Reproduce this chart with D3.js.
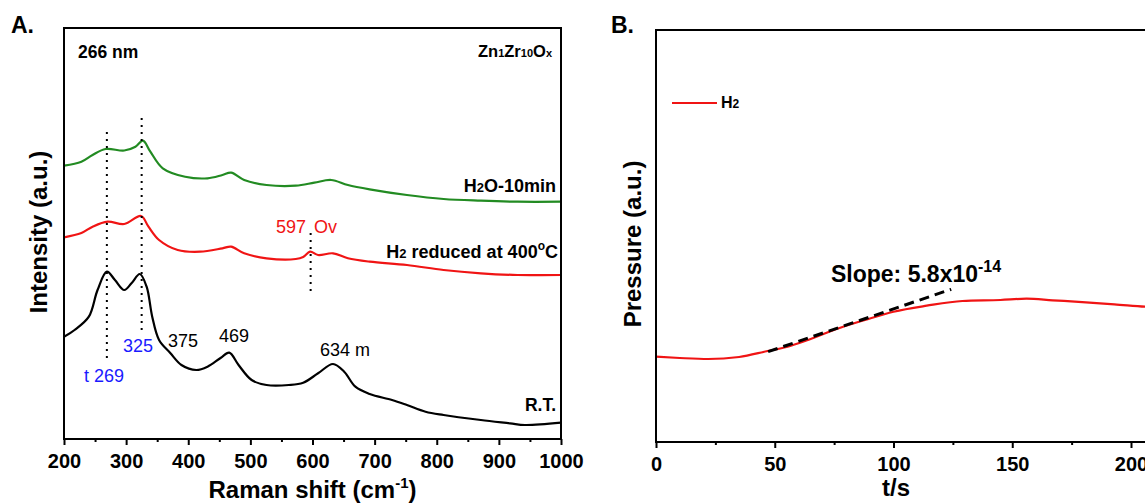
<!DOCTYPE html>
<html>
<head>
<meta charset="utf-8">
<script src="https://cdn.jsdelivr.net/npm/d3@7"></script>
<style>
  body { margin: 0; background: #fff; }
  svg { display: block; font-family: "Liberation Sans", Arial, sans-serif; }
</style>
</head>
<body>
<div id="base"></div>
<script>
// panel A: Raman spectra (intensity in a.u., offset stacked as in the figure)
var ramanShiftRT = [200, 217, 240, 254, 269, 282, 297, 309, 322, 333, 342, 353, 371, 389, 413, 431, 452, 466, 481, 502, 526, 562, 585, 609, 633, 651, 669, 692, 728, 752, 782, 811, 871, 918, 942, 1000];
var intensityRT = [102.3, 109, 122.3, 149, 167.3, 159, 149, 156, 165, 152.3, 122.3, 99, 86, 74, 69, 72.3, 81, 86.3, 74, 59, 54, 54, 56.3, 65.7, 75, 67.3, 52.3, 45, 39, 34, 27.3, 24, 19, 15.7, 14, 16.3];

var ramanShiftH2 = [200, 228, 246, 270, 297, 324, 336, 353, 383, 419, 455, 469, 490, 526, 573, 585, 596, 609, 633, 657, 692, 752, 811, 871, 930, 1000];
var intensityH2 = [201.7, 206, 212.3, 217.3, 215, 223, 212.3, 199, 189, 187.3, 190.7, 192.3, 185.7, 180.7, 180, 182, 187.3, 184, 185.7, 180.7, 177.3, 174, 169, 165.7, 164, 164];

var ramanShiftH2O = [200, 228, 246, 267, 297, 315, 327, 339, 359, 395, 431, 455, 469, 490, 526, 573, 603, 630, 657, 692, 752, 811, 871, 930, 1000];
var intensityH2O = [273.3, 277.3, 284, 290, 288.5, 292.3, 298.3, 287.3, 270.7, 262.3, 260.7, 264, 266.3, 259, 254, 253.3, 256.3, 259, 254, 249.7, 244, 240, 238.3, 237.3, 237.3];

var ramanTicks = [200, 300, 400, 500, 600, 700, 800, 900, 1000];
var ramanMinorTicks = [250, 350, 450, 550, 650, 750, 850, 950];

// dotted marker lines: position and vertical extent (a.u.)
var markerShift = [269, 325, 597];
var markerTop = [307, 321, 206];
var markerBottom = [81, 107, 147];

// panel B: pressure vs time
var timeS = [0, 10, 22, 35, 47, 55, 64, 76, 88, 100, 114, 129, 145, 156, 167, 181, 193, 206, 220];
var pressure = [85.3, 84, 83, 85, 91, 95, 102, 113, 122, 130.3, 136.3, 141, 142, 143.3, 141.7, 139.7, 137.7, 135.3, 133.5];
var fitTime = [47.2, 124.3];
var fitPressure = [90.3, 152.7];
var timeTicks = [0, 50, 100, 150, 200];
var timeMinorTicks = [25, 75, 125, 175];

var font = "'Liberation Sans', Arial, sans-serif";
var greenColor = "#228b22";
var redColor = "#f01414";
var blueColor = "#1a1aff";

const width = 1145, height = 504;
const svg = d3.select("#base").append("svg")
    .attr("width", width)
    .attr("height", height);

// ---------- panel A ----------
const ax = {left: 64, right: 561, top: 28, bottom: 439};
const xA = d3.scaleLinear().domain([200, 1000]).range([ax.left, ax.right]);
const yA = d3.scaleLinear().domain([0, 411]).range([ax.bottom, ax.top]);

const lineA = d3.line()
    .x(d => xA(d[0]))
    .y(d => yA(d[1]))
    .curve(d3.curveCatmullRom.alpha(0.5));

svg.append("clipPath").attr("id", "clipA")
  .append("rect").attr("x", ax.left).attr("y", ax.top)
    .attr("width", ax.right - ax.left).attr("height", ax.bottom - ax.top);

const gA = svg.append("g").attr("clip-path", "url(#clipA)");
[[ramanShiftRT, intensityRT, "#000"], [ramanShiftH2, intensityH2, redColor], [ramanShiftH2O, intensityH2O, greenColor]]
  .forEach(s => {
    gA.append("path")
      .datum(d3.zip(s[0], s[1]))
      .attr("fill", "none")
      .attr("stroke", s[2])
      .attr("stroke-width", 2.2)
      .attr("d", lineA);
  });

// dotted guide lines
svg.append("g").selectAll("line")
  .data(markerShift)
  .join("line")
    .attr("x1", d => xA(d)).attr("x2", d => xA(d))
    .attr("y1", (d, i) => yA(markerTop[i]))
    .attr("y2", (d, i) => yA(markerBottom[i]))
    .attr("stroke", "#000")
    .attr("stroke-width", 2)
    .attr("stroke-dasharray", "2,5");

// frame + axis
svg.append("rect")
    .attr("x", ax.left).attr("y", ax.top)
    .attr("width", ax.right - ax.left).attr("height", ax.bottom - ax.top)
    .attr("fill", "none").attr("stroke", "#000").attr("stroke-width", 2);

function styleAxis(g) {
  g.select(".domain").remove();
  g.selectAll(".tick line").attr("stroke-width", 2);
  g.selectAll(".tick text")
    .attr("font-family", font)
    .attr("font-weight", "bold")
    .attr("font-size", 20)
    .attr("fill", "#000")
    .attr("dy", "1.0em");
}

svg.append("g")
    .attr("transform", `translate(0,${ax.bottom})`)
    .call(d3.axisBottom(xA).tickValues(ramanTicks).tickFormat(d3.format("d")).tickSize(6).tickPadding(3).tickSizeOuter(0))
    .call(styleAxis);
svg.append("g")
    .attr("transform", `translate(0,${ax.bottom})`)
    .call(d3.axisBottom(xA).tickValues(ramanMinorTicks).tickSize(3).tickFormat("").tickSizeOuter(0))
    .call(styleAxis);

function addText(x, y, str, opts) {
  opts = opts || {};
  return svg.append("text")
    .attr("x", x).attr("y", y)
    .attr("font-family", font)
    .attr("font-size", opts.size || 16)
    .attr("font-weight", opts.weight || "bold")
    .attr("fill", opts.color || "#000")
    .attr("text-anchor", opts.anchor || "start")
    .text(str);
}

addText(11, 33, "A.", {size: 23});
addText(78, 58, "266 nm", {size: 17.5});

// Zn1Zr10Ox with subscripts
var zn = addText(552, 57, "", {size: 16.5, anchor: "end"});
[["Zn", 0], ["1", 1], ["Zr", 0], ["10", 1], ["O", 0], ["x", 1]].forEach(p => {
  zn.append("tspan").attr("font-size", p[1] ? 11 : 16.5).text(p[0]);
});

var h2o = addText(556, 192, "", {size: 18, anchor: "end"});
h2o.append("tspan").text("H");
h2o.append("tspan").attr("font-size", 13).text("2");
h2o.append("tspan").text("O-10min");

var h2r = addText(558, 258, "", {size: 18, anchor: "end"});
h2r.append("tspan").text("H");
h2r.append("tspan").attr("font-size", 13).text("2");
h2r.append("tspan").text(" reduced at 400");
h2r.append("tspan").attr("font-size", 12).attr("dy", -8).text("o");
h2r.append("tspan").attr("dy", 8).text("C");

addText(276, 233, "597", {size: 18, weight: "normal", color: redColor});
addText(314, 233, "Ov", {size: 18, weight: "normal", color: redColor});
addText(84, 382, "t 269", {size: 18, weight: "normal", color: blueColor});
addText(123, 352, "325", {size: 18, weight: "normal", color: blueColor});
addText(168, 347, "375", {size: 18, weight: "normal"});
addText(219, 342, "469", {size: 18, weight: "normal"});
addText(320, 356, "634 m", {size: 18, weight: "normal"});
addText(556, 411, "R.T.", {size: 17.5, anchor: "end"});

var xtA = addText((ax.left + ax.right) / 2, 498, "", {size: 24, anchor: "middle"});
xtA.append("tspan").text("Raman shift (cm");
xtA.append("tspan").attr("font-size", 15).attr("dy", -10).text("-1");
xtA.append("tspan").attr("dy", 10).text(")");

addText(0, 0, "Intensity (a.u.)", {size: 24, anchor: "middle"})
    .attr("transform", "translate(47,232) rotate(-90)");

// ---------- panel B ----------
const bx = {left: 656, top: 30, bottom: 442};
const xB = d3.scaleLinear().domain([0, 200]).range([bx.left, 1131]);
const yB = d3.scaleLinear().domain([0, 412]).range([bx.bottom, bx.top]);
const bRight = xB(220);

const lineB = d3.line()
    .x(d => xB(d[0]))
    .y(d => yB(d[1]))
    .curve(d3.curveMonotoneX);

svg.append("path")
    .datum(d3.zip(timeS, pressure))
    .attr("fill", "none")
    .attr("stroke", redColor)
    .attr("stroke-width", 2.2)
    .attr("d", lineB);

svg.append("path")
    .datum(d3.zip(fitTime, fitPressure))
    .attr("fill", "none")
    .attr("stroke", "#000")
    .attr("stroke-width", 3)
    .attr("stroke-dasharray", "10,6")
    .attr("d", d3.line().x(d => xB(d[0])).y(d => yB(d[1])));

svg.append("rect")
    .attr("x", bx.left).attr("y", bx.top)
    .attr("width", bRight - bx.left).attr("height", bx.bottom - bx.top)
    .attr("fill", "none").attr("stroke", "#000").attr("stroke-width", 2);

svg.append("g")
    .attr("transform", `translate(0,${bx.bottom})`)
    .call(d3.axisBottom(xB).tickValues(timeTicks).tickSize(6).tickPadding(3).tickSizeOuter(0))
    .call(styleAxis);
svg.append("g")
    .attr("transform", `translate(0,${bx.bottom})`)
    .call(d3.axisBottom(xB).tickValues(timeMinorTicks).tickSize(3).tickFormat("").tickSizeOuter(0))
    .call(styleAxis);

addText(611, 33, "B.", {size: 23});

// legend
svg.append("line")
    .attr("x1", 672).attr("x2", 717).attr("y1", 103).attr("y2", 103)
    .attr("stroke", redColor).attr("stroke-width", 2.2);
var lg = addText(721, 108, "", {size: 16});
lg.append("tspan").text("H");
lg.append("tspan").attr("font-size", 12).text("2");

var sl = addText(831, 282, "", {size: 23});
sl.append("tspan").text("Slope: 5.8x10");
sl.append("tspan").attr("font-size", 16).attr("dy", -10).text("-14");

addText(896, 496, "t/s", {size: 24, anchor: "middle"});
addText(0, 0, "Pressure (a.u.)", {size: 24, anchor: "middle"})
    .attr("transform", "translate(641,244) rotate(-90)");
</script>
</body>
</html>
